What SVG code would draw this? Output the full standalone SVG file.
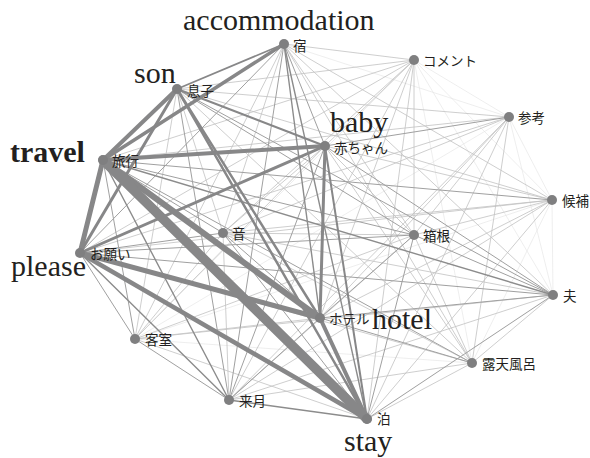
<svg xmlns="http://www.w3.org/2000/svg" width="590" height="458" viewBox="0 0 590 458">
<style>
.edges line{stroke-linecap:round}
.a{stroke:#e2e2e2;stroke-width:0.6}
.b{stroke:#c2c2c2;stroke-width:0.8}
.c{stroke:#a0a0a0;stroke-width:1}
.d{stroke:#8c8c8c;stroke-width:1.4}
.h{stroke:#878788}
.dot{fill:#7f7f80}
.jp{font-family:"Noto Sans CJK JP","Noto Sans",sans-serif;font-size:13.5px;fill:#231f20}
.en{font-family:"Liberation Serif","Times New Roman",serif;font-size:30px;fill:#231f20}
</style>
<rect width="590" height="458" fill="#ffffff"/>
<g id="connectors" class="edges">
<line class="a" x1="284" y1="44" x2="509" y2="117"/>
<line class="a" x1="414" y1="60" x2="509" y2="117"/>
<line class="a" x1="414" y1="60" x2="552" y2="200"/>
<line class="a" x1="414" y1="60" x2="553" y2="295"/>
<line class="a" x1="414" y1="60" x2="135" y2="339"/>
<line class="a" x1="414" y1="60" x2="472" y2="363"/>
<line class="a" x1="509" y1="117" x2="552" y2="200"/>
<line class="a" x1="509" y1="117" x2="553" y2="295"/>
<line class="a" x1="509" y1="117" x2="135" y2="339"/>
<line class="a" x1="552" y1="200" x2="553" y2="295"/>
<line class="a" x1="552" y1="200" x2="135" y2="339"/>
<line class="a" x1="552" y1="200" x2="472" y2="363"/>
<line class="a" x1="135" y1="339" x2="472" y2="363"/>
<line class="b" x1="284" y1="44" x2="414" y2="60"/>
<line class="b" x1="284" y1="44" x2="552" y2="200"/>
<line class="b" x1="284" y1="44" x2="223" y2="233"/>
<line class="b" x1="284" y1="44" x2="414" y2="235"/>
<line class="b" x1="284" y1="44" x2="553" y2="295"/>
<line class="b" x1="284" y1="44" x2="135" y2="339"/>
<line class="b" x1="284" y1="44" x2="472" y2="363"/>
<line class="b" x1="414" y1="60" x2="177" y2="89"/>
<line class="b" x1="414" y1="60" x2="325" y2="146"/>
<line class="b" x1="414" y1="60" x2="103" y2="160"/>
<line class="b" x1="414" y1="60" x2="223" y2="233"/>
<line class="b" x1="414" y1="60" x2="414" y2="235"/>
<line class="b" x1="414" y1="60" x2="80" y2="253"/>
<line class="b" x1="414" y1="60" x2="320" y2="318"/>
<line class="b" x1="414" y1="60" x2="229" y2="400"/>
<line class="b" x1="414" y1="60" x2="367" y2="419"/>
<line class="b" x1="177" y1="89" x2="509" y2="117"/>
<line class="b" x1="177" y1="89" x2="552" y2="200"/>
<line class="b" x1="177" y1="89" x2="223" y2="233"/>
<line class="b" x1="177" y1="89" x2="135" y2="339"/>
<line class="b" x1="177" y1="89" x2="472" y2="363"/>
<line class="b" x1="509" y1="117" x2="103" y2="160"/>
<line class="b" x1="509" y1="117" x2="223" y2="233"/>
<line class="b" x1="509" y1="117" x2="414" y2="235"/>
<line class="b" x1="509" y1="117" x2="80" y2="253"/>
<line class="b" x1="509" y1="117" x2="320" y2="318"/>
<line class="b" x1="509" y1="117" x2="472" y2="363"/>
<line class="b" x1="509" y1="117" x2="229" y2="400"/>
<line class="b" x1="509" y1="117" x2="367" y2="419"/>
<line class="b" x1="325" y1="146" x2="552" y2="200"/>
<line class="b" x1="325" y1="146" x2="223" y2="233"/>
<line class="b" x1="325" y1="146" x2="414" y2="235"/>
<line class="b" x1="325" y1="146" x2="135" y2="339"/>
<line class="b" x1="325" y1="146" x2="472" y2="363"/>
<line class="b" x1="552" y1="200" x2="223" y2="233"/>
<line class="b" x1="552" y1="200" x2="414" y2="235"/>
<line class="b" x1="552" y1="200" x2="80" y2="253"/>
<line class="b" x1="552" y1="200" x2="320" y2="318"/>
<line class="b" x1="552" y1="200" x2="229" y2="400"/>
<line class="b" x1="552" y1="200" x2="367" y2="419"/>
<line class="b" x1="223" y1="233" x2="414" y2="235"/>
<line class="b" x1="223" y1="233" x2="553" y2="295"/>
<line class="b" x1="223" y1="233" x2="135" y2="339"/>
<line class="b" x1="223" y1="233" x2="472" y2="363"/>
<line class="b" x1="223" y1="233" x2="229" y2="400"/>
<line class="b" x1="414" y1="235" x2="135" y2="339"/>
<line class="b" x1="414" y1="235" x2="472" y2="363"/>
<line class="b" x1="414" y1="235" x2="229" y2="400"/>
<line class="b" x1="80" y1="253" x2="472" y2="363"/>
<line class="b" x1="553" y1="295" x2="135" y2="339"/>
<line class="b" x1="553" y1="295" x2="472" y2="363"/>
<line class="b" x1="553" y1="295" x2="229" y2="400"/>
<line class="b" x1="320" y1="318" x2="135" y2="339"/>
<line class="b" x1="135" y1="339" x2="367" y2="419"/>
<line class="b" x1="472" y1="363" x2="229" y2="400"/>
<line class="b" x1="472" y1="363" x2="367" y2="419"/>
<line class="c" x1="284" y1="44" x2="325" y2="146"/>
<line class="c" x1="284" y1="44" x2="80" y2="253"/>
<line class="c" x1="284" y1="44" x2="229" y2="400"/>
<line class="c" x1="177" y1="89" x2="414" y2="235"/>
<line class="c" x1="177" y1="89" x2="553" y2="295"/>
<line class="c" x1="177" y1="89" x2="229" y2="400"/>
<line class="c" x1="509" y1="117" x2="325" y2="146"/>
<line class="c" x1="325" y1="146" x2="553" y2="295"/>
<line class="c" x1="325" y1="146" x2="229" y2="400"/>
<line class="c" x1="103" y1="160" x2="552" y2="200"/>
<line class="c" x1="103" y1="160" x2="223" y2="233"/>
<line class="c" x1="103" y1="160" x2="414" y2="235"/>
<line class="c" x1="103" y1="160" x2="135" y2="339"/>
<line class="c" x1="103" y1="160" x2="472" y2="363"/>
<line class="c" x1="223" y1="233" x2="80" y2="253"/>
<line class="c" x1="223" y1="233" x2="320" y2="318"/>
<line class="c" x1="223" y1="233" x2="367" y2="419"/>
<line class="c" x1="414" y1="235" x2="80" y2="253"/>
<line class="c" x1="414" y1="235" x2="553" y2="295"/>
<line class="c" x1="414" y1="235" x2="320" y2="318"/>
<line class="c" x1="414" y1="235" x2="367" y2="419"/>
<line class="c" x1="80" y1="253" x2="553" y2="295"/>
<line class="c" x1="80" y1="253" x2="135" y2="339"/>
<line class="c" x1="553" y1="295" x2="320" y2="318"/>
<line class="c" x1="553" y1="295" x2="367" y2="419"/>
<line class="c" x1="320" y1="318" x2="472" y2="363"/>
<line class="c" x1="320" y1="318" x2="229" y2="400"/>
<line class="c" x1="135" y1="339" x2="229" y2="400"/>
<line class="d" x1="284" y1="44" x2="320" y2="318"/>
<line class="d" x1="284" y1="44" x2="367" y2="419"/>
<line class="d" x1="103" y1="160" x2="553" y2="295"/>
<line class="d" x1="103" y1="160" x2="229" y2="400"/>
<line class="d" x1="80" y1="253" x2="229" y2="400"/>
<line class="d" x1="229" y1="400" x2="367" y2="419"/>
<line class="h" stroke-width="1.8" x1="284" y1="44" x2="177" y2="89"/>
<line class="h" stroke-width="2" x1="177" y1="89" x2="325" y2="146"/>
<line class="h" stroke-width="2" x1="325" y1="146" x2="367" y2="419"/>
<line class="h" stroke-width="2.5" x1="177" y1="89" x2="320" y2="318"/>
<line class="h" stroke-width="2.5" x1="177" y1="89" x2="367" y2="419"/>
<line class="h" stroke-width="3" x1="177" y1="89" x2="80" y2="253"/>
<line class="h" stroke-width="3" x1="325" y1="146" x2="80" y2="253"/>
<line class="h" stroke-width="3" x1="325" y1="146" x2="320" y2="318"/>
<line class="h" stroke-width="3.5" x1="284" y1="44" x2="103" y2="160"/>
<line class="h" stroke-width="4" x1="177" y1="89" x2="103" y2="160"/>
<line class="h" stroke-width="4" x1="325" y1="146" x2="103" y2="160"/>
<line class="h" stroke-width="4" x1="320" y1="318" x2="367" y2="419"/>
<line class="h" stroke-width="4.5" x1="80" y1="253" x2="367" y2="419"/>
<line class="h" stroke-width="5" x1="103" y1="160" x2="80" y2="253"/>
<line class="h" stroke-width="5" x1="80" y1="253" x2="320" y2="318"/>
<line class="h" stroke-width="6" x1="103" y1="160" x2="320" y2="318"/>
<line class="h" stroke-width="9.5" x1="103" y1="160" x2="367" y2="419"/>
</g>
<g id="node-yado"><circle class="dot" cx="284" cy="44" r="5"/><text class="jp" x="293" y="51">宿</text><text class="en" x="183" y="30">accommodation</text></g>
<g id="node-comment"><circle class="dot" cx="414" cy="60" r="5"/><text class="jp" x="423" y="66" font-size="12">コメント</text></g>
<g id="node-musuko"><circle class="dot" cx="177" cy="89" r="5"/><text class="jp" x="187" y="96">息子</text><text class="en" x="134" y="83">son</text></g>
<g id="node-sanko"><circle class="dot" cx="509" cy="117" r="5"/><text class="jp" x="518" y="123">参考</text></g>
<g id="node-akachan"><circle class="dot" cx="325" cy="146" r="5"/><text class="jp" x="334" y="153">赤ちゃん</text><text class="en" x="330" y="132">baby</text></g>
<g id="node-ryoko"><circle class="dot" cx="103" cy="160" r="5"/><text class="jp" x="112" y="166">旅行</text><text class="en" x="10" y="162" font-weight="bold">travel</text></g>
<g id="node-koho"><circle class="dot" cx="552" cy="200" r="5"/><text class="jp" x="562" y="206">候補</text></g>
<g id="node-oto"><circle class="dot" cx="223" cy="233" r="5"/><text class="jp" x="232" y="239">音</text></g>
<g id="node-hakone"><circle class="dot" cx="414" cy="235" r="5"/><text class="jp" x="423" y="241">箱根</text></g>
<g id="node-onegai"><circle class="dot" cx="80" cy="253" r="5"/><text class="jp" x="90" y="259">お願い</text><text class="en" x="11" y="276">please</text></g>
<g id="node-otto"><circle class="dot" cx="553" cy="295" r="5"/><text class="jp" x="563" y="301">夫</text></g>
<g id="node-hotel"><circle class="dot" cx="320" cy="318" r="5"/><text class="jp" x="329" y="324" font-size="12.5">ホテル</text><text class="en" x="372" y="329">hotel</text></g>
<g id="node-kyakushitsu"><circle class="dot" cx="135" cy="339" r="5"/><text class="jp" x="145" y="345">客室</text></g>
<g id="node-rotenburo"><circle class="dot" cx="472" cy="363" r="5"/><text class="jp" x="482" y="369">露天風呂</text></g>
<g id="node-raigetsu"><circle class="dot" cx="229" cy="400" r="5"/><text class="jp" x="239" y="406">来月</text></g>
<g id="node-haku"><circle class="dot" cx="367" cy="419" r="5"/><text class="jp" x="377" y="424">泊</text><text class="en" x="344" y="451">stay</text></g>
</svg>
